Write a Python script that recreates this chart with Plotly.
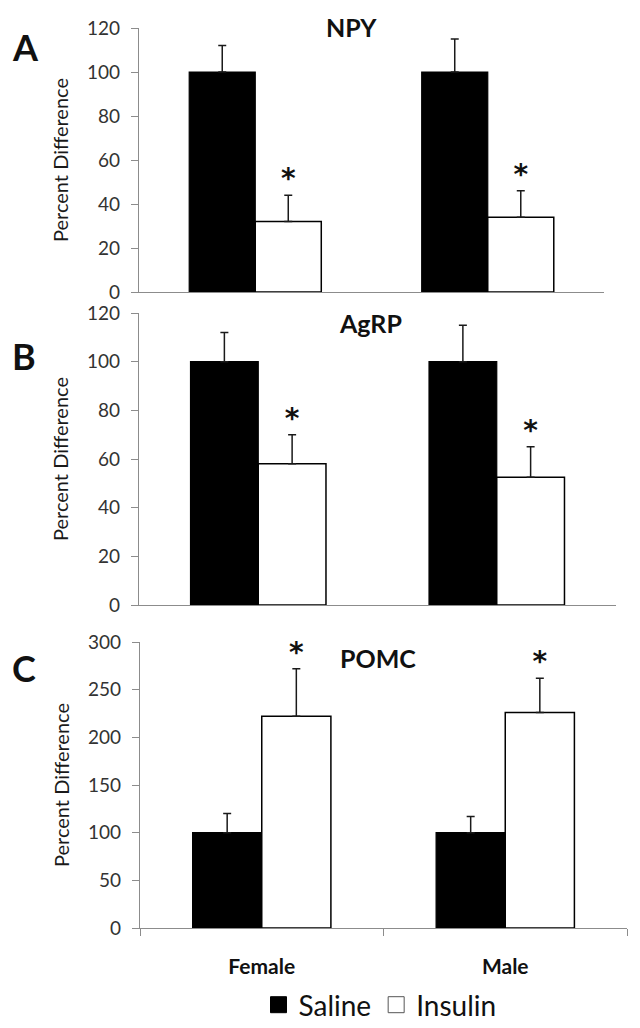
import plotly.graph_objects as go

# ---------------- data ----------------
categories = ["Female", "Male"]
panel_names = ["NPY", "AgRP", "POMC"]
panel_letters = ["A", "B", "C"]

npy_saline = [100, 100]
npy_saline_err = [12, 15]
npy_insulin = [32, 34]
npy_insulin_err = [12, 12]

agrp_saline = [100, 100]
agrp_saline_err = [12, 15]
agrp_insulin = [58, 52.5]
agrp_insulin_err = [12, 12.5]

pomc_saline = [100, 100]
pomc_saline_err = [20, 17]
pomc_insulin = [222, 226]
pomc_insulin_err = [50, 36]

significant = [[True, True], [True, True], [True, True]]

y_ranges = [[0, 120], [0, 120], [0, 300]]
y_dticks = [20, 20, 50]

# ---------------- layout constants ----------------
W, H = 640, 1028
FONT = "Lato"
AXIS_GREY = "#8c8c8c"
BAR_W = 0.284

# pixel geometry of each panel: (x_left, x_right, y_bottom, y_top)
panels_px = [(139, 604, 292, 28), (139, 616, 605, 313), (140, 627, 928, 642)]
title_px = [(351, 27), (370, 323), (378, 658)]
letter_px = [(25, 47), (24, 356), (24, 668)]

saline_sets = [(npy_saline, npy_saline_err), (agrp_saline, agrp_saline_err), (pomc_saline, pomc_saline_err)]
insulin_sets = [(npy_insulin, npy_insulin_err), (agrp_insulin, agrp_insulin_err), (pomc_insulin, pomc_insulin_err)]

fig = go.Figure()
xpos = list(range(len(categories)))

for i in range(3):
    xa = "x" if i == 0 else f"x{i+1}"
    ya = "y" if i == 0 else f"y{i+1}"
    s_val, s_err = saline_sets[i]
    in_val, in_err = insulin_sets[i]
    fig.add_trace(go.Bar(
        x=xpos, y=s_val, width=BAR_W, offset=-BAR_W, xaxis=xa, yaxis=ya,
        name="Saline", showlegend=False,
        marker=dict(color="black", line=dict(color="black", width=1.2)),
        error_y=dict(type="data", array=s_err, arrayminus=[0] * len(s_err), symmetric=False,
                     color="#1a1a1a", thickness=1.5, width=4),
    ))
    fig.add_trace(go.Bar(
        x=xpos, y=in_val, width=BAR_W, offset=0, xaxis=xa, yaxis=ya,
        name="Insulin", showlegend=False,
        marker=dict(color="white", line=dict(color="black", width=1.5)),
        error_y=dict(type="data", array=in_err, arrayminus=[0] * len(in_err), symmetric=False,
                     color="#1a1a1a", thickness=1.5, width=4),
    ))
    # significance asterisks above insulin error bars
    ax_x = [x + BAR_W / 2 for x, sig in zip(xpos, significant[i]) if sig]
    ax_y = [v + e for v, e, sig in zip(in_val, in_err, significant[i]) if sig]
    fig.add_trace(go.Scatter(
        x=ax_x, y=ax_y, mode="text", text=["*"] * len(ax_x), textposition="top center",
        textfont=dict(family="DejaVu Sans", size=28, color="#111", weight="bold"),
        xaxis=xa, yaxis=ya, showlegend=False, cliponaxis=False, hoverinfo="skip",
    ))

# legend entries
fig.add_trace(go.Scatter(x=[None], y=[None], mode="markers", name="Saline", xaxis="x3", yaxis="y3",
                         marker=dict(symbol="square", size=18, color="black", line=dict(color="black", width=1))))
fig.add_trace(go.Scatter(x=[None], y=[None], mode="markers", name="Insulin", xaxis="x3", yaxis="y3",
                         marker=dict(symbol="square", size=18, color="white", line=dict(color="#555", width=1))))

layout = dict(
    width=W, height=H,
    margin=dict(l=0, r=0, t=0, b=0, autoexpand=False),
    paper_bgcolor="white", plot_bgcolor="white",
    font=dict(family=FONT, color="#262626"),
    showlegend=True,
    legend=dict(orientation="h", x=380 / W, xanchor="center", y=1 - 1005 / H, yanchor="middle",
                font=dict(family=FONT, size=28, color="#111"), itemwidth=30, tracegroupgap=0),
    annotations=[],
)

for i in range(3):
    xl, xr, yb, yt = panels_px[i]
    xkey = "xaxis" if i == 0 else f"xaxis{i+1}"
    ykey = "yaxis" if i == 0 else f"yaxis{i+1}"
    xanchor = "y" if i == 0 else f"y{i+1}"
    yanchor = "x" if i == 0 else f"x{i+1}"
    is_bottom = (i == 2)
    xaxis = dict(
        domain=[xl / W, xr / W], anchor=xanchor, range=[-0.5, len(categories) - 0.5],
        showline=True, linecolor=AXIS_GREY, linewidth=1.2, showgrid=False, zeroline=False,
        tickmode="array", tickvals=xpos, ticktext=categories, ticks="",
        showticklabels=is_bottom,
        tickfont=dict(family=FONT, size=21, color="#111", weight="bold"),
        ticklabelstandoff=20, automargin=False,
        fixedrange=True,
    )
    if is_bottom:
        xaxis["minor"] = dict(tickmode="array", tickvals=[k - 0.5 for k in range(len(categories) + 1)],
                              ticks="outside", ticklen=7, tickcolor=AXIS_GREY, tickwidth=1.2)
    layout[xkey] = xaxis
    layout[ykey] = dict(
        domain=[1 - yb / H, 1 - yt / H], anchor=yanchor, range=y_ranges[i], dtick=y_dticks[i],
        showline=True, linecolor=AXIS_GREY, linewidth=1.2, showgrid=False, zeroline=False,
        ticks="outside", ticklen=7, tickcolor=AXIS_GREY, tickwidth=1.2,
        tickfont=dict(family=FONT, size=19, color="#333"),
        ticklabelstandoff=7, automargin=False,
        title=dict(text="Percent Difference", font=dict(family=FONT, size=20, color="#1a1a1a"), standoff=13),
        fixedrange=True,
    )
    tx, ty = title_px[i]
    layout["annotations"].append(dict(
        text=panel_names[i], x=tx / W, y=1 - ty / H, xref="paper", yref="paper",
        xanchor="center", yanchor="middle", showarrow=False,
        font=dict(family=FONT, size=25, color="#111", weight="bold")))
    lx, ly = letter_px[i]
    layout["annotations"].append(dict(
        text=panel_letters[i], x=lx / W, y=1 - ly / H, xref="paper", yref="paper",
        xanchor="center", yanchor="middle", showarrow=False,
        font=dict(family=FONT, size=36, color="#111", weight="bold")))

fig.update_layout(**layout)
fig.write_html("out.html", config={"displayModeBar": False},
               post_script="document.body.style.margin='0';document.body.style.overflow='hidden';")
